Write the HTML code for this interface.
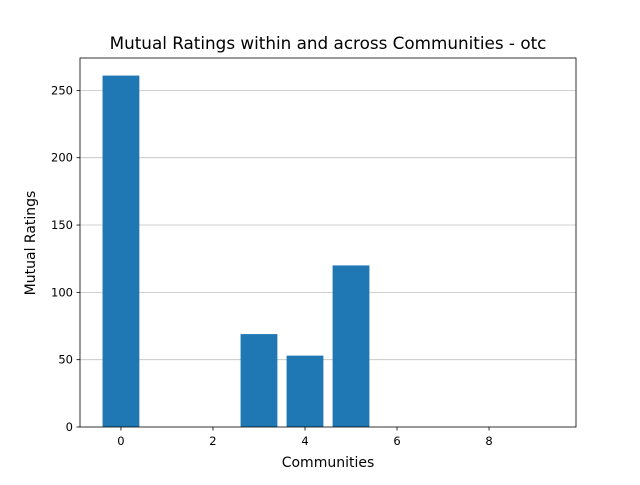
<!DOCTYPE html>
<html><head><meta charset="utf-8"><style>
body{margin:0;background:#fff}
svg text{font-family:"DejaVu Sans","Liberation Sans",sans-serif;fill:#000}
</style></head><body>
<svg id="chart" width="640" height="480" viewBox="0 0 640 480">
<rect width="640" height="480" fill="#fff"/>
<text x="328" y="49" font-size="16.8" text-anchor="middle">Mutual Ratings within and across Communities - otc</text>
<g id="grid"></g><g id="bars"></g><g id="axes"></g>
<text x="328" y="467" font-size="14" text-anchor="middle">Communities</text>
<text transform="translate(35,243) rotate(-90)" font-size="14" text-anchor="middle">Mutual Ratings</text>
</svg>
<script>
const categories=[0,1,2,3,4,5,6,7,8,9];
const values=[261,0,0,69,53,120,0,0,0,0];
const xTicks=[0,2,4,6,8];
const yTicks=[0,50,100,150,200,250];
const L=80,R=576,T=58,B=427;
const xmin=-0.89,xmax=9.89,ymax=Math.max(...values)*1.05;
const xs=v=>L+(v-xmin)/(xmax-xmin)*(R-L);
const ys=v=>B-v/ymax*(B-T);
const NS="http://www.w3.org/2000/svg";
function mk(p,t,a){const e=document.createElementNS(NS,t);for(const k in a)e.setAttribute(k,a[k]);document.getElementById(p).appendChild(e);return e;}
yTicks.forEach(t=>{if(t>0){const g=mk('grid','line',{x1:L,x2:R,y1:ys(t),y2:ys(t),stroke:'#c0c0c0','stroke-width':0.8});

}});
categories.forEach((c,i)=>{const x0=xs(c-0.4),x1=xs(c+0.4);const b=mk('bars','rect',{x:x0,y:ys(values[i]),width:x1-x0,height:B-ys(values[i]),fill:'#1f77b4'});

});
const f=mk('axes','rect',{x:L,y:T,width:R-L,height:B-T,fill:'none',stroke:'#000','stroke-width':0.8});


xTicks.forEach(t=>{mk('axes','line',{x1:xs(t),x2:xs(t),y1:B,y2:B+3.5,stroke:'#000','stroke-width':0.8});
const tx=mk('axes','text',{x:xs(t),y:B+18,'font-size':11.5,'text-anchor':'middle'});tx.textContent=t;

});
yTicks.forEach(t=>{mk('axes','line',{x1:L-3.5,x2:L,y1:ys(t),y2:ys(t),stroke:'#000','stroke-width':0.8});
const tx=mk('axes','text',{x:L-7,y:ys(t)+4,'font-size':11.5,'text-anchor':'end'});tx.textContent=t;

});
</script>
</body></html>
